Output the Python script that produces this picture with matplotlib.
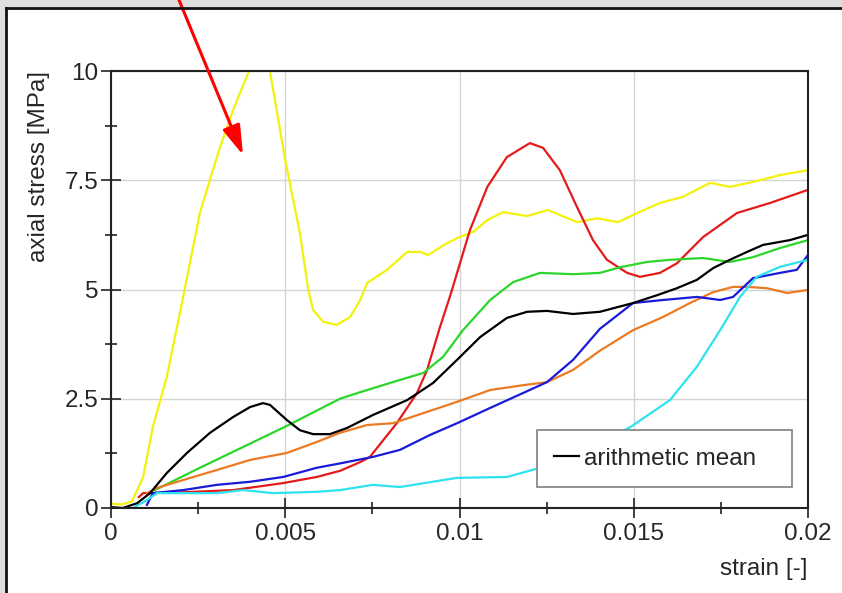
import matplotlib
matplotlib.use("Agg")
import matplotlib.pyplot as plt
from matplotlib.patches import Rectangle, FancyArrowPatch, ArrowStyle
from matplotlib.lines import Line2D
from matplotlib.ticker import MultipleLocator

plt.rcParams["font.family"] = ["Liberation Sans", "DejaVu Sans"]

# strain [-] / axial stress [MPa]
yellow_x = [0, 0.0003, 0.0006, 0.00092, 0.0012, 0.0016, 0.00205, 0.00255, 0.0029, 0.00313,
            0.0035, 0.00396, 0.0042, 0.0044, 0.00456, 0.005, 0.00542, 0.00566, 0.0058, 0.00609,
            0.00648, 0.00686, 0.00715, 0.00735, 0.00792, 0.0085, 0.00887, 0.0091, 0.00964, 0.01,
            0.0104, 0.0108, 0.01125, 0.01194, 0.01254, 0.01337, 0.01394, 0.01455, 0.0151, 0.01575,
            0.01641, 0.01719, 0.01776, 0.01842, 0.0192, 0.02]
yellow_y = [0.1, 0.08, 0.15, 0.7, 1.85, 3.0, 4.75, 6.75, 7.67, 8.26,
            9.1, 10.0, 10.5, 10.5, 10.0, 7.96, 6.29, 5.0, 4.53, 4.26,
            4.19, 4.37, 4.76, 5.15, 5.45, 5.86, 5.86, 5.79, 6.06, 6.2,
            6.32, 6.59, 6.77, 6.68, 6.82, 6.54, 6.63, 6.54, 6.75, 6.98,
            7.12, 7.44, 7.35, 7.46, 7.62, 7.73]

red_x = [0.0008, 0.00092, 0.00207, 0.0035, 0.00494, 0.0059, 0.00657, 0.00715, 0.00743, 0.0082,
         0.00878, 0.00907, 0.00944, 0.00975, 0.0103, 0.0108, 0.01136, 0.01202, 0.0124, 0.01288,
         0.01337, 0.01383, 0.01423, 0.01481, 0.01518, 0.01575, 0.01624, 0.01699, 0.01796, 0.01891, 0.02]
red_y = [0.25, 0.34, 0.36, 0.41, 0.57, 0.71, 0.85, 1.05, 1.17, 1.94,
         2.63, 3.16, 4.14, 4.9, 6.36, 7.35, 8.03, 8.35, 8.24, 7.73,
         6.89, 6.13, 5.68, 5.38, 5.29, 5.38, 5.6, 6.2, 6.75, 6.98, 7.28]

green_x = [0.00126, 0.00255, 0.00505, 0.00657, 0.00715, 0.008, 0.00896, 0.00953, 0.0101, 0.01088,
           0.01154, 0.01231, 0.01326, 0.01403, 0.01461, 0.01538, 0.01604, 0.01699, 0.01776, 0.01842,
           0.0192, 0.02]
green_y = [0.41, 0.92, 1.88, 2.5, 2.65, 2.86, 3.09, 3.46, 4.07, 4.76,
           5.17, 5.38, 5.35, 5.38, 5.51, 5.63, 5.68, 5.72, 5.63, 5.74,
           5.95, 6.13]

orange_x = [0.00103, 0.00132, 0.00207, 0.00304, 0.00399, 0.00505, 0.0059, 0.00657, 0.00735, 0.00809,
            0.00896, 0.00993, 0.01088, 0.01182, 0.01251, 0.01326, 0.01403, 0.01498, 0.01584, 0.01661,
            0.01728, 0.01785, 0.01825, 0.01882, 0.0194, 0.02]
orange_y = [0.34, 0.46, 0.64, 0.87, 1.1, 1.26, 1.51, 1.72, 1.9, 1.94,
            2.17, 2.43, 2.7, 2.81, 2.88, 3.16, 3.6, 4.07, 4.37, 4.69,
            4.94, 5.06, 5.06, 5.03, 4.92, 4.99]

blue_x = [0.00103, 0.0012, 0.00207, 0.00304, 0.00399, 0.00494, 0.0059, 0.00657, 0.00752, 0.00829,
          0.00915, 0.00993, 0.01088, 0.01182, 0.01251, 0.01326, 0.01403, 0.01498, 0.01584, 0.01681,
          0.01748, 0.01785, 0.01842, 0.0192, 0.01968, 0.02]
blue_y = [0.07, 0.34, 0.41, 0.53, 0.6, 0.71, 0.92, 1.02, 1.17, 1.33,
          1.67, 1.94, 2.29, 2.63, 2.88, 3.39, 4.1, 4.69, 4.76, 4.83,
          4.76, 4.83, 5.26, 5.38, 5.45, 5.79]

cyan_x = [0.00063, 0.00103, 0.00132, 0.00207, 0.00304, 0.00379, 0.00465, 0.0059, 0.00657, 0.00752,
          0.00829, 0.00993, 0.01136, 0.01222, 0.0135, 0.0149, 0.01604, 0.01681, 0.01748, 0.01805,
          0.01853, 0.0192, 0.02]
cyan_y = [0.0, 0.18, 0.34, 0.34, 0.34, 0.41, 0.34, 0.37, 0.41, 0.53,
          0.48, 0.69, 0.71, 0.9, 1.3, 1.85, 2.47, 3.23, 4.07, 4.83,
          5.29, 5.52, 5.68]

mean_x = [0, 0.00034, 0.00075, 0.00112, 0.0016, 0.00218, 0.00284, 0.0035, 0.00399, 0.00436,
          0.00456, 0.00505, 0.00542, 0.0058, 0.00628, 0.00677, 0.00752, 0.0085, 0.00924, 0.00993,
          0.01059, 0.01136, 0.01194, 0.01251, 0.01326, 0.01403, 0.01498, 0.01567, 0.01624, 0.01681,
          0.01728, 0.01776, 0.01825, 0.01871, 0.01948, 0.02]
mean_y = [0.02, 0.0, 0.11, 0.34, 0.8, 1.26, 1.72, 2.08, 2.31, 2.4,
          2.36, 2.01, 1.78, 1.69, 1.69, 1.83, 2.13, 2.47, 2.86, 3.39,
          3.91, 4.35, 4.49, 4.51, 4.44, 4.49, 4.69, 4.87, 5.03, 5.22,
          5.49, 5.68, 5.86, 6.02, 6.13, 6.25]

x_ticks = [0, 0.005, 0.01, 0.015, 0.02]
x_tick_labels = ["0", "0.005", "0.01", "0.015", "0.02"]
y_ticks = [0, 2.5, 5, 7.5, 10]
y_tick_labels = ["0", "2.5", "5", "7.5", "10"]

W, H = 842, 593
FS = 17.5
TXT = "#262626"
fig = plt.figure(figsize=(W / 100, H / 100), dpi=100)
fig.patch.set_facecolor("white")

# window-like frame: grey strip on top and left, dark lines
fig.add_artist(Rectangle((0, (H - 7) / H), 1, 7 / H, transform=fig.transFigure,
                         facecolor="#dedede", edgecolor="none"))
fig.add_artist(Rectangle((0, 0), 5 / W, 1, transform=fig.transFigure,
                         facecolor="#dedede", edgecolor="none"))
fig.add_artist(Line2D([6 / W, 1], [(H - 8) / H, (H - 8) / H], transform=fig.transFigure,
                      color="#111111", lw=2))
fig.add_artist(Line2D([6 / W, 6 / W], [0, (H - 8) / H], transform=fig.transFigure,
                      color="#111111", lw=2))

ax = fig.add_axes([111 / W, 85 / H, 697 / W, 437 / H])

lw = 1.6
ax.plot(yellow_x, yellow_y, color="#f4f20a", lw=lw)
ax.plot(red_x, red_y, color="#e51a1a", lw=lw)
ax.plot(green_x, green_y, color="#2bd62b", lw=lw)
ax.plot(orange_x, orange_y, color="#ec7a22", lw=lw)
ax.plot(blue_x, blue_y, color="#1a1ad8", lw=lw)
ax.plot(cyan_x, cyan_y, color="#2ee3ee", lw=lw)
ax.plot(mean_x, mean_y, color="black", lw=lw, label="arithmetic mean")

ax.set_xlim(0, 0.02)
ax.set_ylim(0, 10)
ax.set_xticks(x_ticks)
ax.set_xticklabels(x_tick_labels)
ax.set_yticks(y_ticks)
ax.set_yticklabels(y_tick_labels)
ax.xaxis.set_minor_locator(MultipleLocator(0.0025))
ax.yaxis.set_minor_locator(MultipleLocator(1.25))
ax.tick_params(which="major", direction="inout", length=14, width=1.2, colors="#222222",
               labelcolor=TXT, labelsize=FS, pad=2)
ax.tick_params(axis="x", which="major", pad=4)
ax.tick_params(which="minor", direction="inout", length=9, width=1.2, colors="#222222")
ax.grid(True, which="major", color="#d4d4d4", lw=1)
ax.set_axisbelow(True)
for s in ax.spines.values():
    s.set_color("#222222")
    s.set_linewidth(1.5)

ax.set_xlabel("strain [-]", fontsize=FS, color=TXT, loc="right")
ax.xaxis.set_label_coords(1.0, -0.115)
ax.set_ylabel("axial stress [MPa]", fontsize=FS, color=TXT, loc="top")
ax.yaxis.set_label_coords(-0.088, 1.0)

leg = ax.legend(loc="lower left", bbox_to_anchor=(0.611, 0.048, 0.366, 0.137), mode="expand",
                fontsize=FS, fancybox=False, framealpha=1, edgecolor="#808080",
                handlelength=1.0, handletextpad=0.2, borderpad=0.72, borderaxespad=0)
leg.get_frame().set_linewidth(1.2)
for t in leg.get_texts():
    t.set_color(TXT)

# red pointer arrow
arrow = FancyArrowPatch((179 / W, 1.0), (243 / W, (H - 155) / H), transform=fig.transFigure,
                        arrowstyle=ArrowStyle("-|>", head_length=1.8, head_width=0.55),
                        mutation_scale=10, color="#ff0000", lw=2.2,
                        shrinkA=0, shrinkB=0)
fig.add_artist(arrow)

fig.savefig("out.png", dpi=100)
